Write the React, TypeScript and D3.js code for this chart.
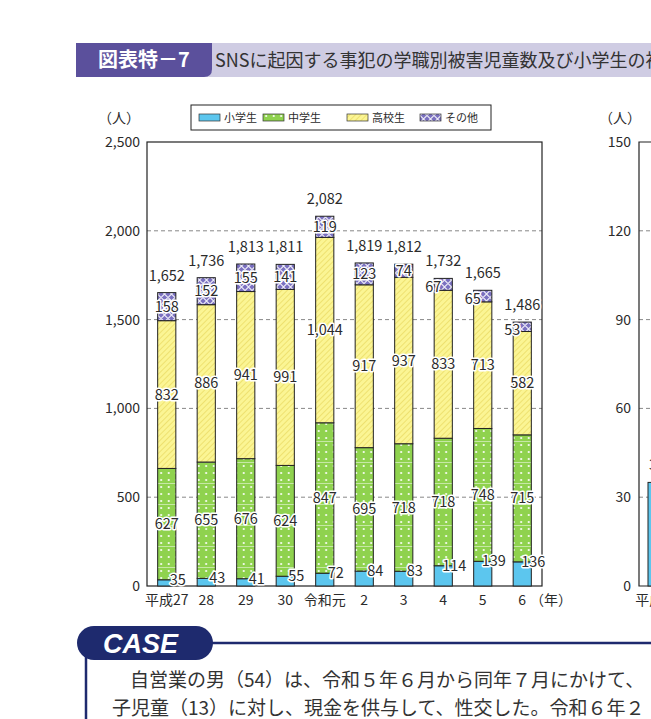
import { scaleBand, scaleLinear } from "d3";
import { useEffect } from "react";

// 学職別被害児童数 (left chart)
const years = ["平成27", "28", "29", "30", "令和元", "2", "3", "4", "5", "6"];
const elementary = [35, 43, 41, 55, 72, 84, 83, 114, 139, 136];
const juniorHigh = [627, 655, 676, 624, 847, 695, 718, 718, 748, 715];
const highSchool = [832, 886, 941, 991, 1044, 917, 937, 833, 713, 582];
const others = [158, 152, 155, 141, 119, 123, 74, 67, 65, 53];
const leftTicks = [0, 500, 1000, 1500, 2000, 2500];

// 小学生の被害 (right chart, only its first bar shows)
const rightYears = ["平成27"];
const rightValues = [35];
const rightTicks = [0, 30, 60, 90, 120, 150];

const seriesNames = ["小学生", "中学生", "高校生", "その他"];
const seriesFills = ["#5cc6ee", "url(#pGreen)", "url(#pYellow)", "url(#pPurple)"];

const FONT = "'Noto Sans CJK JP', 'Noto Sans', sans-serif";
const INK = "#2b2b2b";

const fmt = (v: number) => v.toLocaleString("en-US");

const App = () => {
  useEffect(() => {
    document.body.style.margin = "0";
    document.body.style.overflow = "hidden";
  }, []);

  const x = scaleBand<string>()
    .domain(years)
    .range([147, 542])
    .paddingInner(0.54)
    .paddingOuter(0.27);
  const y = scaleLinear().domain([0, 2500]).range([586, 142]);

  const xR = scaleBand<string>()
    .domain(rightYears)
    .range([639, 675])
    .paddingInner(0.5)
    .paddingOuter(0.25);
  const yR = scaleLinear().domain([0, 150]).range([586, 142]);

  const bw = x.bandwidth();

  const stacks = years.map((yr, i) => {
    const vals = [elementary[i], juniorHigh[i], highSchool[i], others[i]];
    let acc = 0;
    const segs = vals.map((v, k) => {
      const s = { k, v, y0: acc, y1: acc + v };
      acc += v;
      return s;
    });
    return { yr, segs, total: acc };
  });

  const halo = {
    stroke: "#fff",
    strokeWidth: 3,
    paintOrder: "stroke" as const,
    strokeLinejoin: "round" as const,
  };

  return (
    <svg width={651} height={719} style={{ display: "block" }} fontFamily={FONT}>
      <defs>
        <pattern id="pGreen" patternUnits="userSpaceOnUse" width={7.5} height={21}>
          <rect width={7.5} height={21} fill="#8fd24e" />
          <line x1={0} x2={7.5} y1={0.5} y2={0.5} stroke="#fff" strokeOpacity={0.6} strokeWidth={0.8} />
          <circle cx={3.7} cy={4} r={1.05} fill="#fff" />
          <circle cx={3.7} cy={11} r={1.05} fill="#fff" />
          <circle cx={3.7} cy={18} r={1.05} fill="#fff" />
        </pattern>
        <pattern
          id="pYellow"
          patternUnits="userSpaceOnUse"
          width={4}
          height={4}
          patternTransform="rotate(45)"
        >
          <rect width={4} height={4} fill="#fbf594" />
          <line x1={0} x2={0} y1={0} y2={4} stroke="#e6d457" strokeWidth={1.2} />
        </pattern>
        <pattern id="pPurple" patternUnits="userSpaceOnUse" width={7} height={7}>
          <rect width={7} height={7} fill="#7a70c0" />
          <path d="M0,3.5 L3.5,0 L7,3.5 L3.5,7 Z" fill="none" stroke="#fff" strokeWidth={1.1} strokeOpacity={0.85} />
        </pattern>
      </defs>

      {/* header band */}
      <rect x={76} y={43} width={575} height={34} fill="#cfcce3" />
      <path d="M76,43 H212 V69 Q212,77 204,77 H76 Z" fill="#5b509c" />
      <text x={144} y={67} textAnchor="middle" fill="#fff" fontSize={20} fontWeight={700}>
        図表特－7
      </text>
      <text x={215} y={67} fill="#333" fontSize={18}>
        SNSに起因する事犯の学職別被害児童数及び小学生の被害
      </text>

      {/* legend */}
      <rect x={191} y={105} width={300} height={25} fill="#fff" stroke="#222" strokeWidth={1} />
      {seriesNames.map((n, k) => {
        const lx = [199, 263, 347, 420][k];
        return (
          <g key={n}>
            <rect x={lx} y={114} width={21} height={7} fill={seriesFills[k]} stroke="#333" strokeWidth={0.7} />
            <text x={lx + 25} y={121.5} fontSize={11} fill={INK}>
              {n}
            </text>
          </g>
        );
      })}

      {/* left chart */}
      <text x={119} y={123} textAnchor="middle" fontSize={14} fill={INK}>
        （人）
      </text>
      {leftTicks.map((t) => (
        <g key={t}>
          {t > 0 && t < 2500 && (
            <line x1={147} x2={542} y1={y(t)} y2={y(t)} stroke="#888" strokeDasharray="4 3" strokeWidth={1} />
          )}
          <text x={140} y={y(t)} dy="0.35em" textAnchor="end" fontSize={14} fill={INK}>
            {fmt(t)}
          </text>
        </g>
      ))}
      <rect x={147} y={142} width={395} height={444} fill="none" stroke="#222" strokeWidth={1.2} />

      {stacks.map((s) => {
        const x0 = x(s.yr)!;
        return (
          <g key={s.yr}>
            {s.segs.map((g) => (
              <rect
                key={g.k}
                x={x0}
                y={y(g.y1)}
                width={bw}
                height={y(g.y0) - y(g.y1)}
                fill={seriesFills[g.k]}
                stroke="#222"
                strokeWidth={1}
              />
            ))}
          </g>
        );
      })}
      {stacks.map((s) => {
        const cx = x(s.yr)! + bw / 2;
        return (
          <g key={s.yr} fontSize={14.5} fill={INK} textAnchor="middle">
            {s.segs.map((g) => {
              let lx = cx;
              let ly = y((g.y0 + g.y1) / 2);
              if (g.k === 0) {
                lx = cx + 11;
                ly = y(g.y1);
              }
              if (g.k === 3 && g.v < 70) {
                lx = cx - 10;
                ly += 3;
              }
              return (
                <text key={g.k} x={lx} y={ly} dy="0.35em" {...halo}>
                  {fmt(g.v)}
                </text>
              );
            })}
            <text x={cx} y={y(s.total) - 17} dy="0.35em" {...halo}>
              {fmt(s.total)}
            </text>
            <text x={cx} y={600} dy="0.35em" fontSize={14}>
              {s.yr}
            </text>
          </g>
        );
      })}
      <text x={530} y={600} dy="0.35em" fontSize={14} fill={INK}>
        （年）
      </text>

      {/* right chart */}
      <text x={620} y={123} textAnchor="middle" fontSize={14} fill={INK}>
        （人）
      </text>
      {rightTicks.map((t) => (
        <g key={t}>
          {t > 0 && t < 150 && (
            <line x1={639} x2={651} y1={yR(t)} y2={yR(t)} stroke="#888" strokeDasharray="4 3" strokeWidth={1} />
          )}
          <text x={631} y={yR(t)} dy="0.35em" textAnchor="end" fontSize={14} fill={INK}>
            {t}
          </text>
        </g>
      ))}
      <path d="M660,142 H639 V586 H660" fill="none" stroke="#222" strokeWidth={1.2} />
      {rightYears.map((yr, i) => {
        const cx = xR(yr)! + xR.bandwidth() / 2;
        return (
          <g key={yr}>
            <rect
              x={xR(yr)!}
              y={yR(rightValues[i])}
              width={xR.bandwidth()}
              height={yR(0) - yR(rightValues[i])}
              fill={seriesFills[0]}
              stroke="#222"
              strokeWidth={1}
            />
            <text x={cx} y={yR(rightValues[i]) - 17} dy="0.35em" textAnchor="middle" fontSize={14.5} fill={INK}>
              {rightValues[i]}
            </text>
            <text x={cx} y={600} dy="0.35em" textAnchor="middle" fontSize={14} fill={INK}>
              {yr}
            </text>
          </g>
        );
      })}

      {/* CASE box */}
      <line x1={205} x2={651} y1={643} y2={643} stroke="#1e2a6e" strokeWidth={2.5} />
      <line x1={86} x2={86} y1={650} y2={719} stroke="#1e2a6e" strokeWidth={2.5} />
      <rect x={77} y={626} width={136} height={34} rx={17} fill="#1e2a6e" />
      <text
        x={103}
        y={653}
        fill="#fff"
        fontSize={27}
        fontWeight={700}
        fontStyle="italic"
        fontFamily="'Liberation Sans', Arial, sans-serif"
      >
        CASE
      </text>
      <text x={130} y={687} fontSize={19} fill="#333">
        自営業の男（54）は、令和５年６月から同年７月にかけて、
      </text>
      <text x={112} y={715} fontSize={19} fill="#333">
        子児童（13）に対し、現金を供与して、性交した。令和６年２
      </text>
    </svg>
  );
};

export default App;
